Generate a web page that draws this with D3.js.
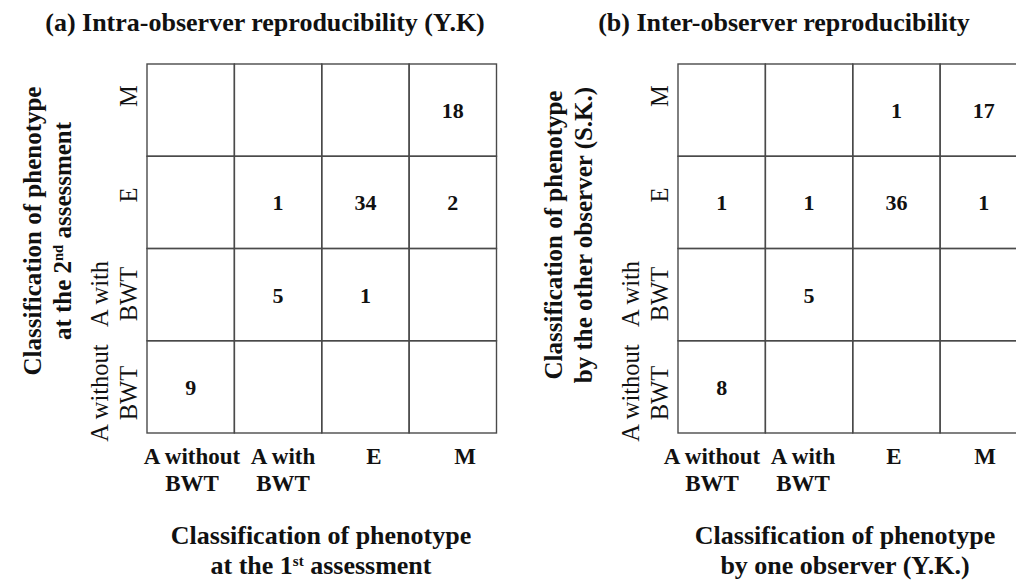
<!DOCTYPE html>
<html>
<head>
<meta charset="utf-8">
<script src="https://cdn.jsdelivr.net/npm/d3@7"></script>
<style>
  html, body { margin: 0; padding: 0; background: #fff; }
  svg { display: block; }
  text { font-family: "Liberation Serif", "Times New Roman", serif; fill: #111; }
</style>
</head>
<body>
<svg id="chart" width="1016" height="581"></svg>
<script>
// ---------------- data ----------------
const categories = ["A without BWT", "A with BWT", "E", "M"];
const tickLines = [["A without", "BWT"], ["A with", "BWT"], ["E"], ["M"]];

// rows listed top -> bottom (M, E, A with BWT, A without BWT); columns follow `categories`
const rowCategories = ["M", "E", "A with BWT", "A without BWT"];
const intraValues = [
  [null, null, null, 18],
  [null, 1, 34, 2],
  [null, 5, 1, null],
  [9, null, null, null]
];
const interValues = [
  [null, null, 1, 17],
  [1, 1, 36, 1],
  [null, 5, null, null],
  [8, null, null, null]
];

const panelTitles = ["(a) Intra-observer reproducibility (Y.K)", "(b) Inter-observer reproducibility"];
// axis titles: arrays of lines; each line is list of [text, isSuperscript]
const xTitles = [
  [[["Classification of phenotype", false]], [["at the 1", false], ["st", true], [" assessment", false]]],
  [[["Classification of phenotype", false]], [["by one observer (Y.K.)", false]]]
];
const yTitles = [
  [[["Classification of phenotype", false]], [["at the 2", false], ["nd", true], [" assessment", false]]],
  [[["Classification of phenotype", false]], [["by the other observer (S.K.)", false]]]
];

// ---------------- layout ----------------
const svg = d3.select("#chart");
const panels = [
  { values: intraValues, title: panelTitles[0], xTitle: xTitles[0], yTitle: yTitles[0],
    x0: 147, x1: 496.5, titleX: 265, xTitleX: 321, yTitleX: 71, yTitleY: 231,
    tickInL: 45, tickInR: 31.5 },
  { values: interValues, title: panelTitles[1], xTitle: xTitles[1], yTitle: yTitles[1],
    x0: 678, x1: 1027.5, titleX: 784, xTitleX: 845, yTitleX: 592, yTitleY: 235,
    tickInL: 34, tickInR: 42.5 }
];
const y0 = 64, y1 = 433;

function addLines(textSel, parts, superSize) {
  parts.forEach(([t, sup]) => {
    const ts = textSel.append("tspan").text(t);
    if (sup) ts.attr("baseline-shift", "super").attr("font-size", superSize);
  });
}

panels.forEach(p => {
  const g = svg.append("g");
  const x = d3.scaleBand().domain(categories).range([p.x0, p.x1]);
  const y = d3.scaleBand().domain(rowCategories).range([y0, y1]);

  // cells
  const cells = [];
  p.values.forEach((row, ri) => row.forEach((v, ci) => cells.push({ r: rowCategories[ri], c: categories[ci], v })));

  g.selectAll("rect.cell").data(cells).join("rect")
    .attr("class", "cell")
    .attr("x", d => x(d.c)).attr("y", d => y(d.r))
    .attr("width", x.bandwidth()).attr("height", y.bandwidth())
    .attr("fill", "none").attr("stroke", "#4a4a4a").attr("stroke-width", 1.4);

  g.selectAll("text.val").data(cells.filter(d => d.v !== null)).join("text")
    .attr("class", "val")
    .attr("x", d => x(d.c) + x.bandwidth() / 2)
    .attr("y", d => y(d.r) + y.bandwidth() / 2)
    .attr("dy", "0.36em")
    .attr("text-anchor", "middle")
    .attr("font-size", 22).attr("font-weight", "bold")
    .text(d => d.v);

  // x tick labels
  const xt = d3.scalePoint().domain(categories).range([p.x0 + p.tickInL, p.x1 - p.tickInR]);
  categories.forEach((c, i) => {
    const t = g.append("text").attr("text-anchor", "middle")
      .attr("font-size", 23).attr("font-weight", "bold");
    tickLines[i].forEach((ln, k) => {
      t.append("tspan").attr("x", xt(c)).attr("y", 464 + k * 27).text(ln);
    });
  });

  // y tick labels (rotated, bottom-aligned to baseline next to grid)
  const yt = d3.scalePoint().domain(categories).range([y1 - 40, y0 + 32]);
  categories.forEach((c, i) => {
    const lines = tickLines[i];
    const t = g.append("text")
      .attr("transform", `translate(${p.x0 - 10},${yt(c)}) rotate(-90)`)
      .attr("text-anchor", "middle").attr("font-size", 24.5);
    lines.forEach((ln, k) => {
      t.append("tspan").attr("x", 0).attr("y", (k - (lines.length - 1)) * 29).text(ln);
    });
  });

  // panel title
  g.append("text").attr("x", p.titleX).attr("y", 31)
    .attr("text-anchor", "middle").attr("font-size", 26).attr("font-weight", "bold")
    .text(p.title);

  // x axis title
  p.xTitle.forEach((parts, k) => {
    const t = g.append("text").attr("x", p.xTitleX).attr("y", 544 + k * 29.5)
      .attr("text-anchor", "middle").attr("font-size", 26).attr("font-weight", "bold");
    addLines(t, parts, 15);
  });

  // y axis title
  p.yTitle.forEach((parts, k) => {
    const t = g.append("text")
      .attr("transform", `translate(${p.yTitleX},${p.yTitleY}) rotate(-90)`)
      .attr("y", (k - (p.yTitle.length - 1)) * 30)
      .attr("text-anchor", "middle").attr("font-size", 25).attr("font-weight", "bold");
    addLines(t, parts, 14.5);
  });
});
</script>
</body>
</html>
